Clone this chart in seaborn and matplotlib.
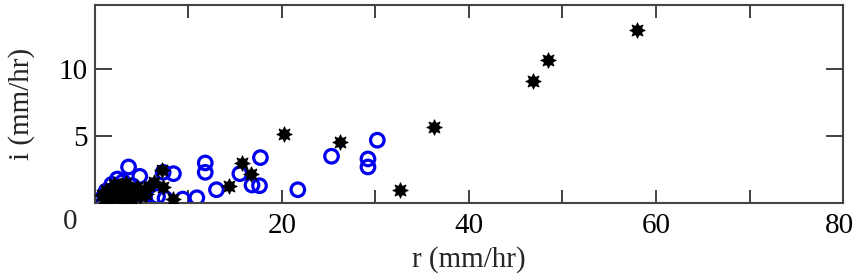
import pandas as pd
import matplotlib.pyplot as plt
import matplotlib.transforms as mtransforms
import seaborn as sns

# dados (r e i em mm/hr)
r_preto = [58.0, 48.4, 46.8, 36.3, 32.6, 26.2, 20.2, 15.7, 16.7, 14.3,
           7.2, 6.3, 7.3, 8.3,
           1.0, 1.3, 1.6, 1.8, 2.0, 2.3, 2.5, 2.7, 2.9, 3.1, 3.3, 3.5,
           3.8, 4.0, 4.2, 4.5, 4.8, 5.2, 5.5, 1.2, 2.0, 5.8, 0.8]
i_preto = [12.9, 10.7, 9.1, 5.7, 1.0, 4.6, 5.2, 3.0, 2.2, 1.3,
           2.5, 1.6, 1.2, 0.3,
           0.3, 0.5, 0.2, 0.8, 0.4, 1.0, 0.6, 1.3, 0.3, 0.9, 1.5, 0.5,
           1.1, 0.3, 0.8, 1.2, 0.5, 1.0, 0.7, 1.0, 1.4, 1.3, 0.6]

r_azul = [30.2, 29.2, 29.2, 25.3, 21.7, 17.7, 17.6, 16.8, 15.5, 13.0,
          11.8, 11.8, 10.9, 9.4, 7.5, 8.4, 7.3, 4.8, 3.6, 6.7, 5.1,
          0.7, 1.2, 1.8, 2.4, 3.0, 3.6, 4.3, 2.0, 5.3, 1.0, 4.0]
i_azul = [4.7, 3.3, 2.7, 3.5, 1.0, 3.4, 1.3, 1.35, 2.2, 1.0,
          3.0, 2.3, 0.4, 0.3, 0.35, 2.2, 2.3, 2.0, 2.7, 0.5, 0.4,
          0.3, 0.9, 1.4, 1.8, 1.6, 0.3, 0.2, 0.1, 0.4, 0.1, 1.3]

xticks = [10, 20, 30, 40, 50, 60, 70, 80]
xlabels = ['', '20', '', '40', '', '60', '', '80']
yticks = [5, 10]
ylabels = ['5', '10']

df_preto = pd.DataFrame({'r': r_preto, 'i': i_preto})
df_azul = pd.DataFrame({'r': r_azul, 'i': i_azul})

sns.set_theme(style="white")
plt.rcParams['font.family'] = ['Liberation Serif', 'DejaVu Serif']
FS = 21

fig = plt.figure(figsize=(8.55, 2.79), dpi=100)
ax = fig.add_axes([0.111, 0.272, 0.875, 0.71])

sns.scatterplot(data=df_azul, x='r', y='i', ax=ax, marker='o', s=95,
                facecolor='none', edgecolor='#0000ee', linewidth=2.3, zorder=2)
# marcador preto: bolinha cheia com pontas curtas
sns.scatterplot(data=df_preto, x='r', y='i', ax=ax, marker='o', s=60,
                color='black', edgecolor='black', linewidth=0, zorder=3)
sns.scatterplot(data=df_preto, x='r', y='i', ax=ax, marker=(8, 1, 0), s=120,
                color='black', edgecolor='black', linewidth=0.8, zorder=3)

ax.set_xlim(0, 80)
ax.set_ylim(0, 14.8)
ax.set_xticks(xticks)
ax.set_xticklabels(xlabels)
ax.set_yticks(yticks)
ax.set_yticklabels(ylabels)

ax.tick_params(axis='x', direction='in', length=9.5, width=1.3, top=True,
               bottom=True, labelsize=FS, pad=7, colors='#333333',
               labelcolor='black')
ax.tick_params(axis='y', direction='in', length=12, width=1.3, left=True,
               right=True, labelsize=FS, pad=5, colors='#333333',
               labelcolor='black')

# o 80 fica colado na borda direita
lbl80 = ax.get_xticklabels()[-1]
lbl80.set_transform(lbl80.get_transform() +
                    mtransforms.ScaledTranslation(-4 / 100, 0, fig.dpi_scale_trans))

for sp in ax.spines.values():
    sp.set_color('#444444')
    sp.set_linewidth(1.5)

ax.set_xlabel('r (mm/hr)', fontsize=FS)
ax.xaxis.set_label_coords(0.5, -0.285)
ax.xaxis.label.set_va('center')
ax.set_ylabel('i (mm/hr)', fontsize=FS)
ax.yaxis.set_label_coords(-0.098, 0.5)
ax.yaxis.label.set_va('center')

# o zero do canto fica deslocado para a esquerda
fig.text(70 / 855, 1 - 222 / 279, '0', fontsize=FS, ha='center', va='center')

plt.savefig('out.png', dpi=100)
plt.close()
